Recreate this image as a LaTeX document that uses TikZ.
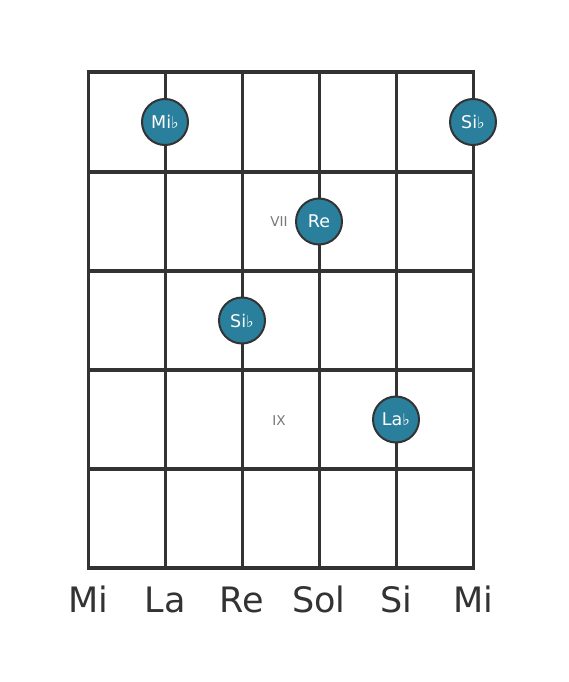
\documentclass[tikz,border=0pt]{standalone}
\usepackage{fontspec}
\setmainfont{DejaVu Sans}
\definecolor{gridc}{HTML}{333333}
\definecolor{notec}{HTML}{2A7F9C}
\definecolor{romc}{HTML}{777777}
\newcommand{\flt}{{\fontsize{16pt}{16pt}\selectfont ♭}}
\begin{document}
\begin{tikzpicture}[x=1pt,y=-1pt,
  fret/.style={draw=gridc,line width=4.5pt},
  stringline/.style={draw=gridc,line width=3pt},
  notedot/.style={circle,fill=notec,draw=gridc,line width=2pt,minimum size=46pt,inner sep=0pt,text=white,font=\fontsize{17.5pt}{17.5pt}\selectfont},
  roman/.style={text=romc,font=\fontsize{13.5pt}{13.5pt}\selectfont},
  strlabel/.style={text=gridc,font=\fontsize{35pt}{35pt}\selectfont,anchor=base}]
\useasboundingbox (0,0) rectangle (568,682);
\fill[white] (0,0) rectangle (568,682);
% strings
\foreach \x in {88,165,242,319,396,473}
  \draw[stringline] (\x,72) -- (\x,568);
% frets
\foreach \y in {172,271,370,469}
  \draw[fret] (86.5,\y) -- (474.5,\y);
\draw[fret] (86.5,72) -- (474.5,72);
\draw[fret] (86.5,568) -- (474.5,568);
% roman numerals
\node[roman] (r7) at (279,222) {VII};
\node[roman] (r9) at (279,421) {IX};
% notes
\node[notedot] (n1) at (165,122) {Mi\flt};
\node[notedot] (n2) at (473,122) {Si\flt};
\node[notedot] (n3) at (319,221.5) {Re};
\node[notedot] (n4) at (242,320.5) {Si\flt};
\node[notedot] (n5) at (396,419.5) {La\flt};
% string labels
\node[strlabel] (s1) at (88,612) {Mi};
\node[strlabel] (s2) at (165,612) {La};
\node[strlabel] (s3) at (242,612) {Re};
\node[strlabel] (s4) at (319,612) {Sol};
\node[strlabel] (s5) at (396,612) {Si};
\node[strlabel] (s6) at (473,612) {Mi};
\end{tikzpicture}
\end{document}
